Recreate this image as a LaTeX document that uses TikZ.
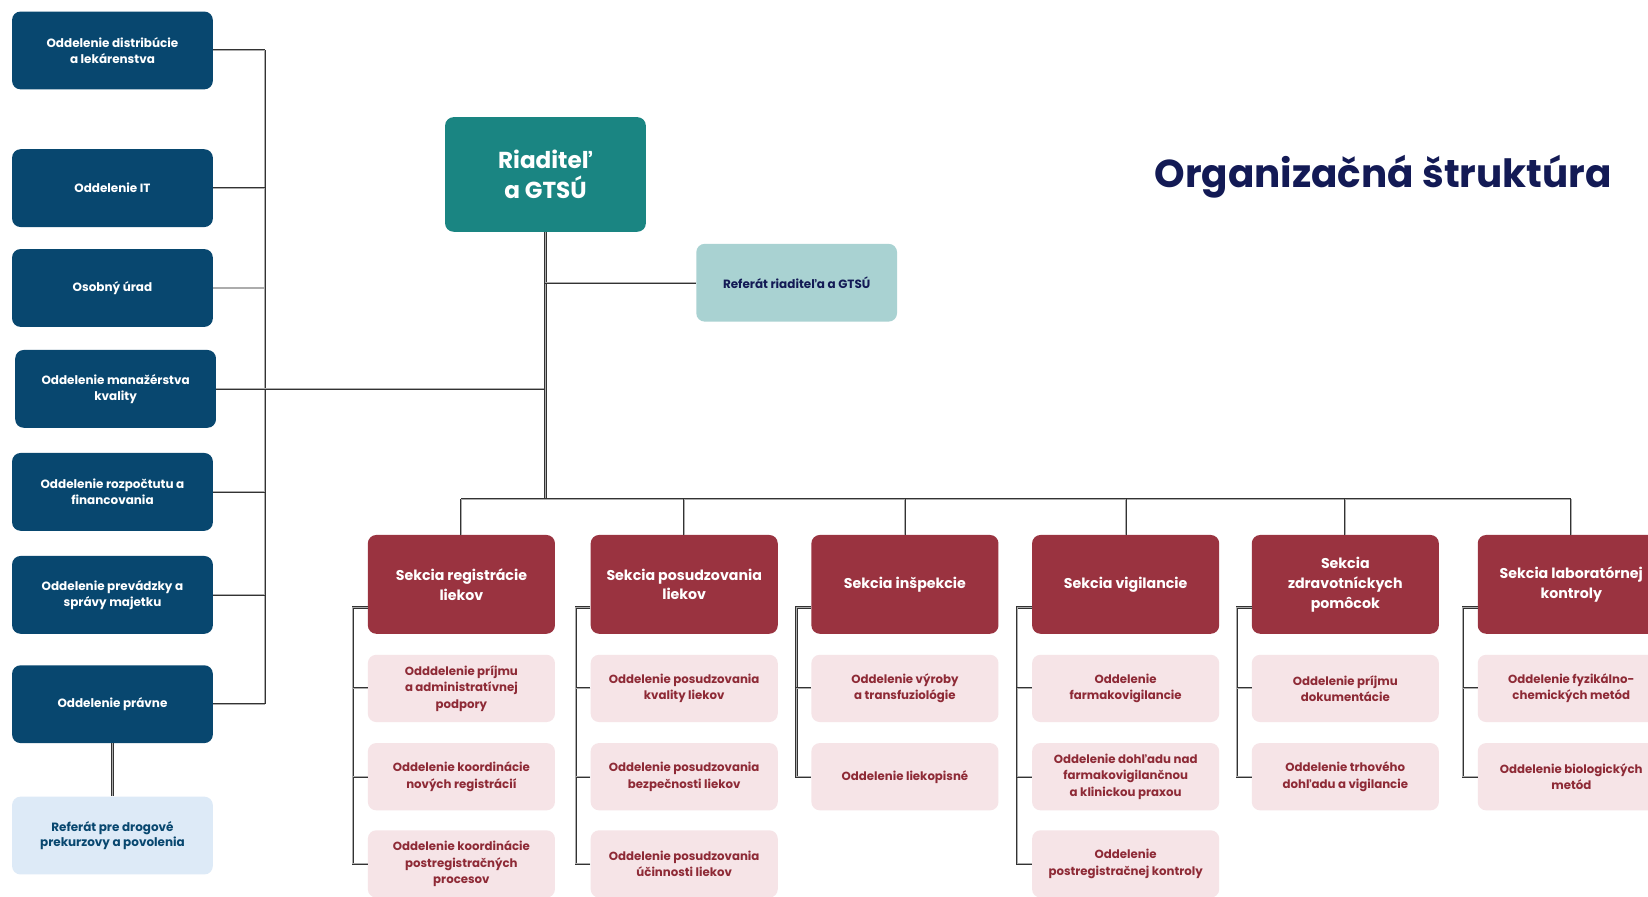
\documentclass[tikz,border=0pt]{standalone}
\usepackage{fontspec}
\setmainfont{Poppins}
\usetikzlibrary{positioning, calc}

\definecolor{deptblue}{HTML}{08476F}
\definecolor{dirteal}{HTML}{1A8582}
\definecolor{refteal}{HTML}{A9D2D2}
\definecolor{reflblue}{HTML}{DDEAF7}
\definecolor{sekred}{HTML}{9A3340}
\definecolor{subpink}{HTML}{F6E4E7}
\definecolor{subtext}{HTML}{8E2A36}
\definecolor{navy}{HTML}{131A55}

\tikzset{
    box/.style={rectangle, rounded corners=8pt, align=center, inner sep=2pt},
    dept/.style={box, fill=deptblue, text=white, minimum width=191pt, minimum height=74pt,
        font=\bfseries\fontsize{11.4}{15}\selectfont},
    refbox/.style={box, minimum width=191pt, minimum height=74pt,
        font=\bfseries\fontsize{11.4}{15}\selectfont},
    director/.style={box, fill=dirteal, text=white, minimum width=191pt, minimum height=109pt,
        font=\bfseries\fontsize{22}{29}\selectfont},
    sekcia/.style={box, fill=sekred, text=white, minimum width=178pt, minimum height=94pt,
        font=\bfseries\fontsize{13.5}{19}\selectfont},
    subdept/.style={box, fill=subpink, text=subtext, minimum width=178pt, minimum height=64pt,
        font=\bfseries\fontsize{11.2}{15.5}\selectfont},
    link/.style={draw=black!80, line width=0.5pt, double=gray!65, double distance=1pt}
}

\begin{document}
\begin{tikzpicture}[x=1pt, y=-1pt]
    % Page frame
    \clip (0,0) rectangle (1568,853);
    \fill[white] (0,0) rectangle (1568,853);

    % Title
    \node[text=navy, font=\bfseries\fontsize{37}{40}\selectfont] (title) at (1316,168) {Organizačná štruktúra};

    % Director and his office
    \node[director] (dir) at (519,166) {Riaditeľ\\a GTSÚ};
    \node[refbox, fill=refteal, text=navy] (refdir) at (758,269) {Referát riaditeľa a GTSÚ};

    % Departments on the left
    \node[dept] (distr) at (107,48) {Oddelenie distribúcie\\a lekárenstva};
    \node[dept] (it) at (107,179) {Oddelenie IT};
    \node[dept] (osob) at (107,274) {Osobný úrad};
    \node[dept] (kval) at (110,370) {Oddelenie manažérstva\\kvality};
    \node[dept] (rozp) at (107,468) {Oddelenie rozpočtutu a\\financovania};
    \node[dept] (prev) at (107,566) {Oddelenie prevádzky a\\správy majetku};
    \node[dept] (prav) at (107,670) {Oddelenie právne};
    \node[refbox, fill=reflblue, text=deptblue] (drog) at (107,795) {Referát pre drogové\\prekurzovy a povolenia};

    % Sections
    \node[sekcia] (sreg) at (439,556) {Sekcia registrácie\\liekov};
    \node[sekcia] (spos) at (651,556) {Sekcia posudzovania\\liekov};
    \node[sekcia] (sinsp) at (861,556) {Sekcia inšpekcie};
    \node[sekcia] (svig) at (1071,556) {Sekcia vigilancie};
    \node[sekcia] (szdr) at (1280,556) {Sekcia\\zdravotníckych\\pomôcok};
    \node[sekcia] (slab) at (1495,556) {Sekcia laboratórnej\\kontroly};

    % Departments of the sections
    \node[subdept] (sreg-1) at (439,655) {Odddelenie príjmu\\a administratívnej\\podpory};
    \node[subdept] (sreg-2) at (439,739) {Oddelenie koordinácie\\nových registrácií};
    \node[subdept] (sreg-3) at (439,822) {Oddelenie koordinácie\\postregistračných\\procesov};
    \node[subdept] (spos-1) at (651,655) {Oddelenie posudzovania\\kvality liekov};
    \node[subdept] (spos-2) at (651,739) {Oddelenie posudzovania\\bezpečnosti liekov};
    \node[subdept] (spos-3) at (651,822) {Oddelenie posudzovania\\účinnosti liekov};
    \node[subdept] (sinsp-1) at (861,655) {Oddelenie výroby\\a transfuziológie};
    \node[subdept] (sinsp-2) at (861,739) {Oddelenie liekopisné};
    \node[subdept] (svig-1) at (1071,655) {Oddelenie\\farmakovigilancie};
    \node[subdept] (svig-2) at (1071,739) {Oddelenie dohľadu nad\\farmakovigilančnou\\a klinickou praxou};
    \node[subdept] (svig-3) at (1071,822) {Oddelenie\\postregistračnej kontroly};
    \node[subdept] (szdr-1) at (1280,655) {Oddelenie príjmu\\dokumentácie};
    \node[subdept] (szdr-2) at (1280,739) {Oddelenie trhového\\dohľadu a vigilancie};
    \node[subdept] (slab-1) at (1495,655) {Oddelenie fyzikálno-\\chemických metód};
    \node[subdept] (slab-2) at (1495,739) {Oddelenie biologických\\metód};

    % Bus lines
    \coordinate (lbus) at (252,0);
    \coordinate (hbus) at (0,475);

    % Left bus
    \draw[link] (distr.east -| lbus) -- (prav.east -| lbus);
    \foreach \d in {distr,it,osob,rozp,prev,prav} {
        \draw[link] (\d.east) -- (\d.east -| lbus);
    }
    \draw[link] (kval.east) -- (kval.east -| dir.south);
    \draw[link] (prav.south) -- (drog.north);

    % Director down to the sections
    \draw[link] (dir.south) -- (dir.south |- hbus);
    \draw[link] (dir.south |- refdir.west) -- (refdir.west);
    \draw[link] (sreg.north |- hbus) -- (slab.north |- hbus);
    \foreach \s in {sreg,spos,sinsp,svig,szdr,slab} {
        \draw[link] (\s.north |- hbus) -- (\s.north);
    }

    % Sections to their departments
    \foreach \s/\n in {sreg/3,spos/3,sinsp/2,svig/3,szdr/2,slab/2} {
        \draw[link] ([yshift=-22pt]\s.west) -- ++(-14,0) |- (\s-\n.west);
        \foreach \k in {1,...,\n} {
            \draw[link] (\s-\k.west) -- ++(-14,0);
        }
    }

\end{tikzpicture}
\end{document}
